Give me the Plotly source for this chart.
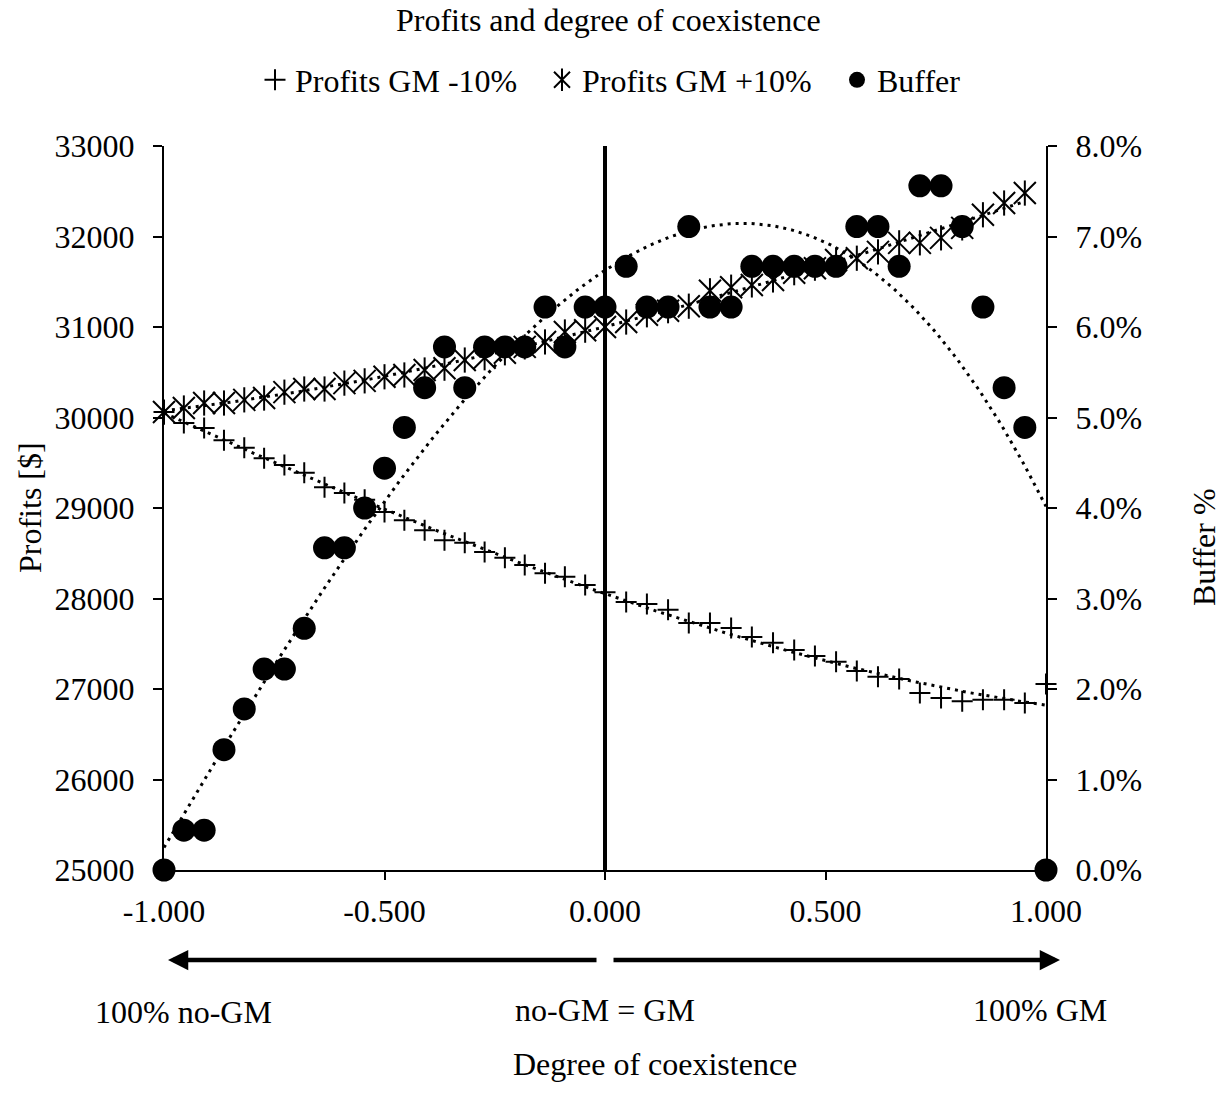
import numpy as np
import plotly.graph_objects as go

# ---------------- data ----------------
x_all = [-1.000, -0.955, -0.909, -0.864, -0.818, -0.773, -0.727, -0.682, -0.636, -0.591,
         -0.545, -0.500, -0.455, -0.409, -0.364, -0.318, -0.273, -0.227, -0.182, -0.136,
         -0.091, -0.045, 0.000,
         0.048, 0.095, 0.143, 0.190, 0.238, 0.286, 0.333, 0.381, 0.429, 0.476,
         0.524, 0.571, 0.619, 0.667, 0.714, 0.762, 0.810, 0.857, 0.905, 0.952, 1.000]

profits_minus10 = [30060, 29940, 29885, 29750, 29665, 29550, 29475, 29390, 29230, 29165,
                   29090, 28955, 28865, 28755, 28645, 28615, 28515, 28450, 28370, 28280,
                   28240, 28150, 28070,
                   27960, 27940, 27875, 27730, 27730, 27675, 27575, 27510, 27430, 27365,
                   27300, 27200, 27135, 27110, 26955, 26900, 26865, 26880, 26880, 26845, 27055]

x_plus10 = x_all[:-1]
profits_plus10 = [30060, 30105, 30160, 30160, 30195, 30215, 30280, 30315, 30315, 30380,
                  30405, 30450, 30470, 30525, 30545, 30635, 30660, 30715, 30780, 30835,
                  30945, 30965, 31000,
                  31055, 31135, 31180, 31230, 31400, 31440, 31465, 31520, 31600, 31650,
                  31740, 31760, 31830, 31930, 31930, 31985, 32095, 32240, 32370, 32480]

buffer_pct = [0.00, 0.44, 0.44, 1.33, 1.78, 2.22, 2.22, 2.67, 3.56, 3.56,
              4.00, 4.44, 4.89, 5.33, 5.78, 5.33, 5.78, 5.78, 5.78, 6.22,
              5.78, 6.22, 6.22,
              6.67, 6.22, 6.22, 7.11, 6.22, 6.22, 6.67, 6.67, 6.67, 6.67,
              6.67, 7.11, 7.11, 6.67, 7.56, 7.56, 7.11, 6.22, 5.33, 4.89, 0.00]

x_tickvals = [-1.0, -0.5, 0.0, 0.5, 1.0]
x_ticktext = ["-1.000", "-0.500", "0.000", "0.500", "1.000"]
y_tickvals = [25000, 26000, 27000, 28000, 29000, 30000, 31000, 32000, 33000]
y2_tickvals = [0.00, 0.01, 0.02, 0.03, 0.04, 0.05, 0.06, 0.07, 0.08]

# ---------------- styling ----------------
FONT = "Liberation Serif"
FS = 32
BLACK = "#000000"
TREND_ORDER_PROFIT = 3
TREND_ORDER_BUFFER = 3

buffer_frac = [v / 100.0 for v in buffer_pct]


def trend(xs, ys, order):
    c = np.polyfit(xs, ys, order)
    xx = np.linspace(min(xs), max(xs), 300)
    return xx, np.polyval(c, xx)


fig = go.Figure()

# Profits GM -10%
fig.add_trace(go.Scatter(
    x=x_all, y=profits_minus10, mode="markers", name="Profits GM -10%",
    marker=dict(symbol="cross-thin-open", size=15, color=BLACK, line=dict(width=2, color=BLACK)),
    legend="legend", cliponaxis=False))
tx, ty = trend(x_all, profits_minus10, TREND_ORDER_PROFIT)
fig.add_trace(go.Scatter(x=tx, y=ty, mode="lines", showlegend=False, hoverinfo="skip",
                         line=dict(color=BLACK, width=3, dash="3px,5px")))

# Profits GM +10%  (X plus vertical bar)
fig.add_trace(go.Scatter(
    x=x_plus10, y=profits_plus10, mode="markers", name="Profits GM +10%",
    marker=dict(symbol="x-thin-open", size=22, color=BLACK, line=dict(width=2, color=BLACK)),
    legend="legend2", cliponaxis=False))
fig.add_trace(go.Scatter(
    x=x_plus10, y=profits_plus10, mode="markers", name=" ",
    marker=dict(symbol="line-ns-open", size=18, color=BLACK, line=dict(width=2, color=BLACK)),
    legend="legend4", cliponaxis=False))
tx, ty = trend(x_plus10, profits_plus10, TREND_ORDER_PROFIT)
fig.add_trace(go.Scatter(x=tx, y=ty, mode="lines", showlegend=False, hoverinfo="skip",
                         line=dict(color=BLACK, width=3, dash="3px,5px")))

# Buffer
fig.add_trace(go.Scatter(
    x=x_all, y=buffer_frac, mode="markers", name="Buffer", yaxis="y2",
    marker=dict(symbol="circle", size=23, color=BLACK),
    legend="legend3", cliponaxis=False))
tx, ty = trend(x_all, buffer_frac, TREND_ORDER_BUFFER)
fig.add_trace(go.Scatter(x=tx, y=ty, mode="lines", showlegend=False, hoverinfo="skip", yaxis="y2",
                         line=dict(color=BLACK, width=3, dash="3px,5px")))

# plot area: x 164..1046, y 146..870
L, R, T, B = 164, 1046, 146, 870
W, H = R - L, B - T


def px(xp):
    return (xp - L) / W


def py(yp):
    return (B - yp) / H


legend_common = dict(orientation="h", font=dict(family=FONT, size=FS, color=BLACK),
                     bgcolor="rgba(0,0,0,0)", yanchor="middle", xanchor="left",
                     itemsizing="trace")

fig.update_layout(
    width=1227, height=1109,
    margin=dict(l=L, r=1227 - R, t=T, b=1109 - B, autoexpand=False),
    paper_bgcolor="white", plot_bgcolor="white",
    font=dict(family=FONT, size=FS, color=BLACK),
    showlegend=True,
    legend=dict(x=px(255), y=py(80), **legend_common),
    legend2=dict(x=px(542), y=py(80), **legend_common),
    legend4=dict(x=px(542), y=py(80), **legend_common),
    legend3=dict(x=px(837), y=py(80), **legend_common),
    xaxis=dict(range=[-1, 1], tickvals=x_tickvals, ticktext=x_ticktext,
               showgrid=False, zeroline=False, showline=True, linecolor=BLACK, linewidth=2,
               ticks="outside", ticklen=8, tickwidth=2, tickcolor=BLACK,
               tickfont=dict(family=FONT, size=FS, color=BLACK), ticklabelstandoff=4),
    yaxis=dict(range=[25000, 33000], tickvals=y_tickvals, tickformat="d",
               showgrid=False, zeroline=False, showline=True, linecolor=BLACK, linewidth=2,
               ticks="outside", ticklen=9, tickwidth=2, tickcolor=BLACK,
               tickfont=dict(family=FONT, size=FS, color=BLACK), ticklabelstandoff=12),
    yaxis2=dict(range=[0, 0.08], tickvals=y2_tickvals, tickformat=".1%",
                overlaying="y", side="right",
                showgrid=False, zeroline=False, showline=True, linecolor=BLACK, linewidth=2,
                ticks="outside", ticklen=9, tickwidth=2, tickcolor=BLACK,
                tickfont=dict(family=FONT, size=FS, color=BLACK), ticklabelstandoff=12),
)

# vertical line at x = 0
fig.add_shape(type="line", xref="x", yref="paper", x0=0, x1=0, y0=0, y1=1,
              line=dict(color=BLACK, width=4), layer="above")

ann_font = dict(family=FONT, size=FS, color=BLACK)
fig.add_annotation(text="Profits and degree of coexistence", xref="paper", yref="paper",
                   x=px(608), y=py(20), showarrow=False, font=ann_font,
                   xanchor="center", yanchor="middle")
fig.add_annotation(text="Profits [$]", xref="paper", yref="paper", x=px(30), y=py(508),
                   textangle=-90, showarrow=False, font=ann_font, xanchor="center", yanchor="middle")
fig.add_annotation(text="Buffer %", xref="paper", yref="paper", x=px(1204), y=py(547),
                   textangle=-90, showarrow=False, font=ann_font, xanchor="center", yanchor="middle")
fig.add_annotation(text="100% no-GM", xref="paper", yref="paper", x=px(183), y=py(1012),
                   showarrow=False, font=ann_font, xanchor="center", yanchor="middle")
fig.add_annotation(text="no-GM = GM", xref="paper", yref="paper", x=px(605), y=py(1010),
                   showarrow=False, font=ann_font, xanchor="center", yanchor="middle")
fig.add_annotation(text="100% GM", xref="paper", yref="paper", x=px(1040), y=py(1010),
                   showarrow=False, font=ann_font, xanchor="center", yanchor="middle")
fig.add_annotation(text="Degree of coexistence", xref="paper", yref="paper", x=px(655), y=py(1064),
                   showarrow=False, font=ann_font, xanchor="center", yanchor="middle")

# arrows
fig.add_annotation(text="", xref="paper", yref="paper", x=px(168), y=py(960),
                   ax=598 - 168, ay=0, axref="pixel", ayref="pixel",
                   showarrow=True, arrowhead=2, arrowsize=0.9, arrowwidth=4.5, arrowcolor=BLACK)
fig.add_annotation(text="", xref="paper", yref="paper", x=px(1060), y=py(960),
                   ax=612 - 1060, ay=0, axref="pixel", ayref="pixel",
                   showarrow=True, arrowhead=2, arrowsize=0.9, arrowwidth=4.5, arrowcolor=BLACK)

fig.write_html("out.html")
